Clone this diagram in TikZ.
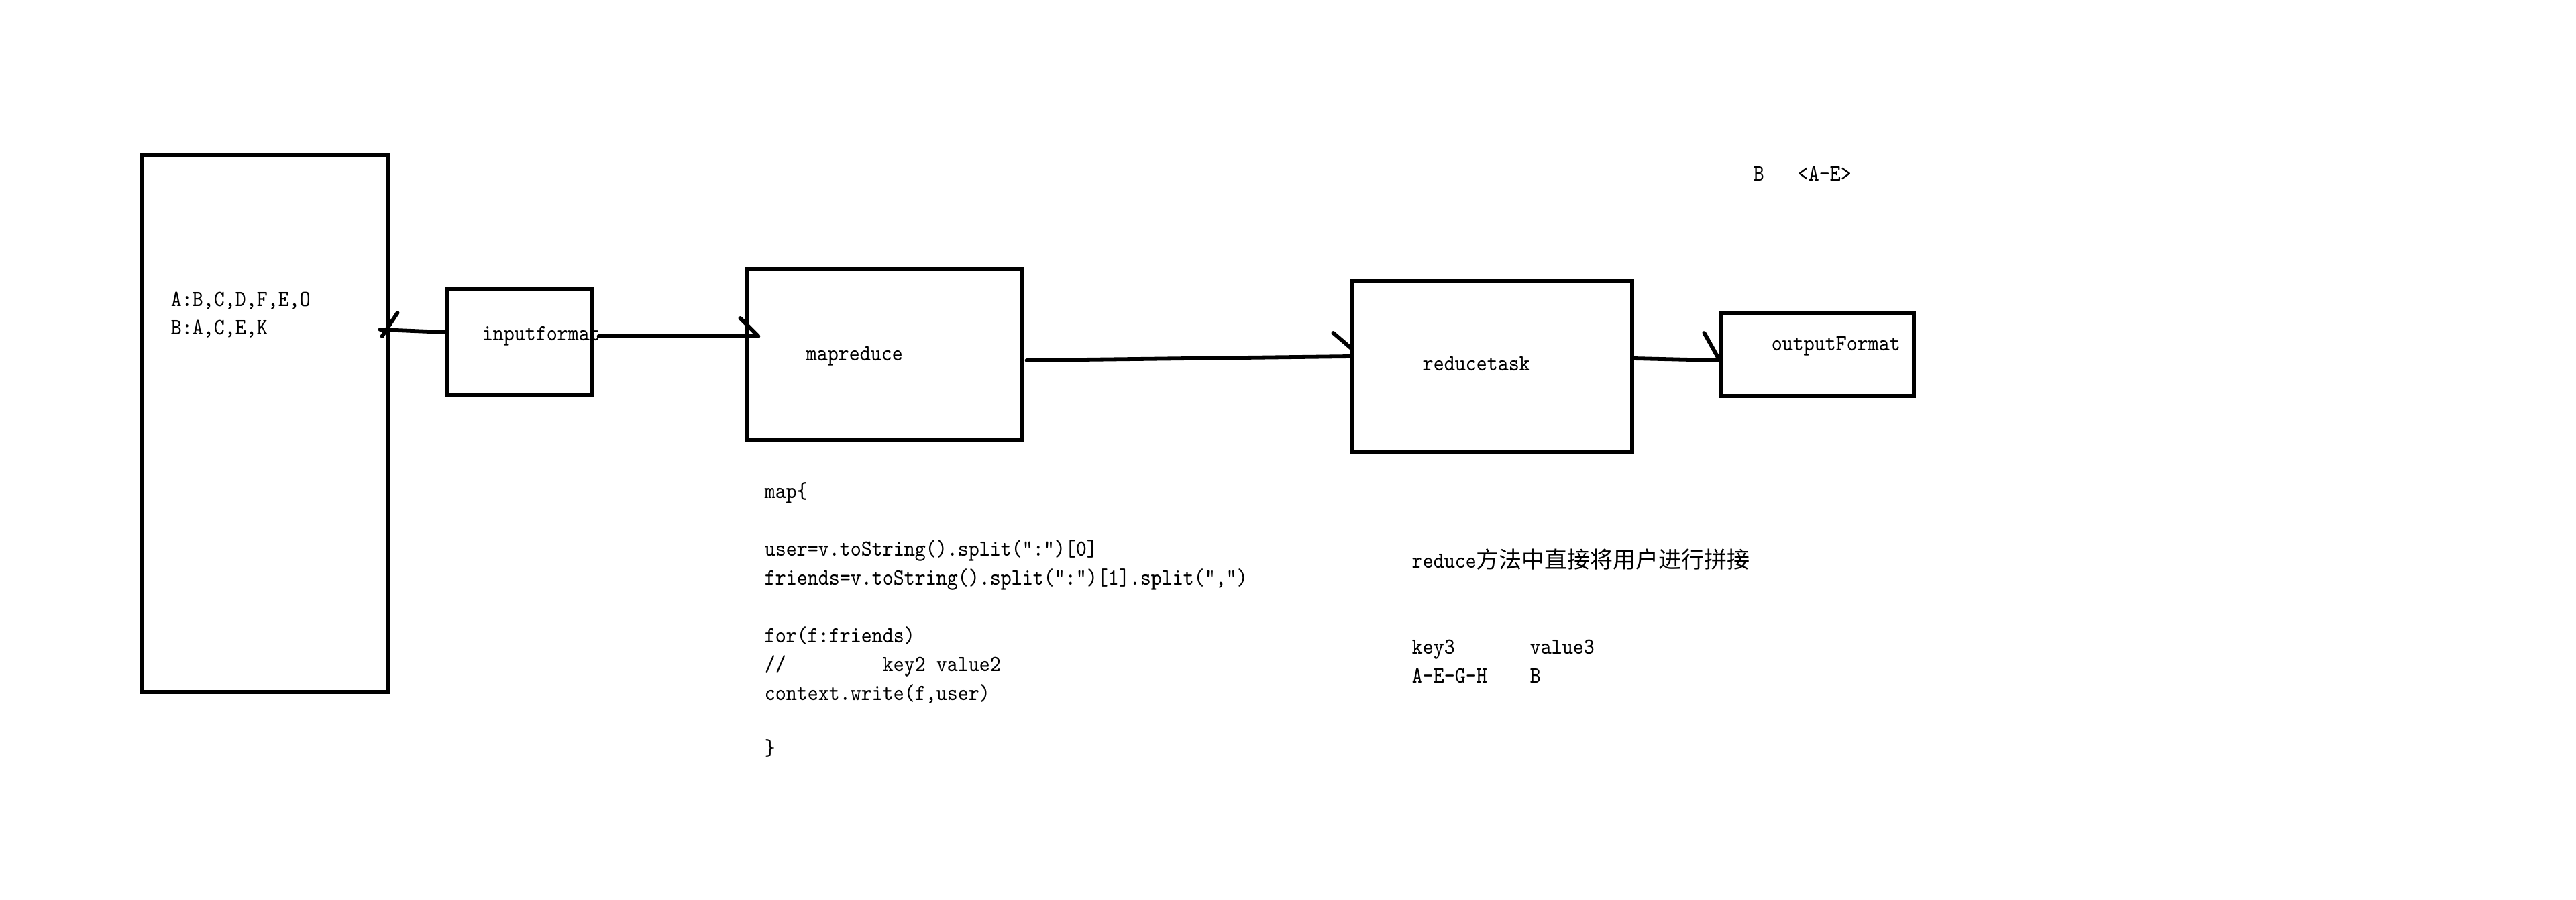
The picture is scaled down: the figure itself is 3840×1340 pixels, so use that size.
\documentclass[tikz,border=0pt]{standalone}
\usepackage{fontspec}
\setmainfont{Latin Modern Mono}[FakeStretch=0.886]
\newfontfamily\cjk{Noto Sans CJK SC}
\begin{document}
\begin{tikzpicture}[x=0.25pt,y=-0.25pt,
  box/.style={draw=black,line width=1.3pt,inner sep=0pt,fill=none},
  conn/.style={draw=black,line width=1.45pt,line cap=round},
  txt/.style={anchor=base west,inner sep=0pt,font=\fontsize{8.6pt}{10pt}\selectfont,text=black}]
\fill[white] (0,0) rectangle (3840,1340);
\useasboundingbox (0,0) rectangle (3840,1340);
% boxes
\node[box,minimum width=91.5pt,minimum height=200pt] (src) at (395,631) {};
\node[box,minimum width=53.75pt,minimum height=39.25pt] (inp) at (774.5,509.5) {};
\node[box,minimum width=102.5pt,minimum height=63.5pt] (mapr) at (1319,528) {};
\node[box,minimum width=104.5pt,minimum height=63.5pt] (red) at (2224,546) {};
\node[box,minimum width=72pt,minimum height=30.75pt] (outf) at (2709,528.5) {};
% texts in boxes
\node[txt] (s1) at (254,456) {A:B,C,D,F,E,O};
\node[txt] (s2) at (254,498) {B:A,C,E,K};
\node[txt] (t1) at (718,507) {inputformat};
\node[txt] (t2) at (1201,537) {mapreduce};
\node[txt] (t3) at (2120,552) {reducetask};
\node[txt] (t4) at (2640,522) {outputFormat};
% top right
\node[txt] (b1) at (2613,269) {B};
\node[txt] (b2) at (2679,269) {<A-E>};
% code
\node[txt] (m1) at (1139,742) {map\{};
\node[txt] (m2) at (1139,828) {user=v.toString().split(”:”)[0]};
\node[txt] (m3) at (1139,871) {friends=v.toString().split(”:”)[1].split(”,”)};
\node[txt] (m4) at (1139,957) {for(f:friends)};
\node[txt] (m5) at (1139,1000) {//};
\node[txt] (m6) at (1315,1000) {key2 value2};
\node[txt] (m7) at (1139,1043) {context.write(f,user)};
\node[txt] (m8) at (1139,1125) {\}};
% reduce notes
\node[txt] (r1) at (2104,846) {reduce{\cjk\fontsize{8.5pt}{10pt}\selectfont 方法中直接将用户进行拼接}};
\node[txt] (r2) at (2104,974) {key3};
\node[txt] (r3) at (2280,974) {value3};
\node[txt] (r4) at (2104,1017) {A-E-G-H};
\node[txt] (r5) at (2280,1017) {B};
% connectors
\draw[conn] ([yshift=3.625pt]inp.west) -- ([yshift=35pt,xshift=-3.5pt]src.east);
\draw[conn] ([yshift=35pt]src.east) ++(-11,10) -- ++(23,-35);
\draw[conn] ([yshift=2.125pt,xshift=2pt]inp.east) -- ([yshift=6.75pt,xshift=4pt]mapr.west);
\draw[conn] ([yshift=6.75pt]mapr.west) ++(-8,-27) -- ++(27,27);
\draw[conn] ([yshift=-2.25pt,xshift=1pt]mapr.east) -- ([yshift=3.75pt]red.west);
\draw[conn] ([yshift=3.75pt]red.west) ++(-25,-35) -- ++(28,24);
\draw[conn] ([yshift=3pt]red.east) -- ([yshift=-2.125pt]outf.west);
\draw[conn] ([yshift=-2.125pt]outf.west) ++(-22,-41) -- ++(23,41);
\end{tikzpicture}
\end{document}
